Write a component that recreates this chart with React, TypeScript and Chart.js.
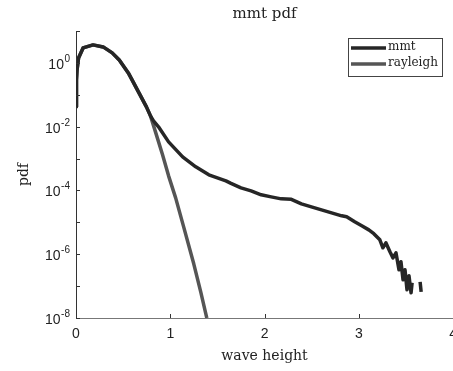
import React, { useEffect, useRef } from "react";
import { Chart, registerables } from "chart.js";

Chart.register(...registerables);

const chartTitle = "mmt pdf";
const xTitle = "wave height";
const yTitle = "pdf";
const xTicks = [0, 1, 2, 3, 4];
const yLabelExponents = [0, -2, -4, -6, -8];
const yDecades = [1, 0, -1, -2, -3, -4, -5, -6, -7, -8];

const mmtX = [0.002, 0.005, 0.011, 0.027, 0.075, 0.181, 0.288, 0.384, 0.459, 0.555, 0.651, 0.747, 0.79, 0.822, 0.875, 0.982, 1.131, 1.27, 1.409, 1.59, 1.644, 1.75, 1.857, 1.964, 2.07, 2.177, 2.284, 2.391, 2.497, 2.604, 2.711, 2.818, 2.871, 2.956, 3.031, 3.106, 3.159, 3.223, 3.255, 3.287, 3.33, 3.362, 3.394, 3.426, 3.447, 3.469, 3.49, 3.511, 3.532, 3.554, 3.565, 3.6, 3.65, 3.661];
const mmtY = [0.0418, 0.293, 0.6, 1.43, 2.95, 3.67, 3.17, 2.06, 1.24, 0.486, 0.1425, 0.0418, 0.0218, 0.0152, 9.9e-3, 3.34e-3, 1.13e-3, 5.5e-4, 3.08e-4, 2.0e-4, 1.67e-4, 1.21e-4, 9.7e-5, 7.3e-5, 6.3e-5, 5.45e-5, 5.26e-5, 3.8e-5, 3.06e-5, 2.47e-5, 1.99e-5, 1.6e-5, 1.49e-5, 1.04e-5, 7.8e-6, 5.8e-6, 4.4e-6, 2.83e-6, 1.59e-6, 2.28e-6, 1.19e-6, 7.7e-7, 1.11e-6, 3.24e-7, 5.8e-7, 1.57e-7, 3.24e-7, 7.7e-8, 2.1e-7, 6.2e-8, 1.27e-7, null, 1.36e-7, 6.6e-8];

const rayX = [0.002, 0.005, 0.011, 0.027, 0.075, 0.181, 0.288, 0.384, 0.459, 0.555, 0.651, 0.747, 0.79, 0.843, 0.918, 0.982, 1.057, 1.142, 1.249, 1.323, 1.387, 1.409];
const rayY = [0.0418, 0.293, 0.6, 1.43, 2.95, 3.67, 3.17, 2.06, 1.24, 0.486, 0.1425, 0.0418, 0.0218, 6.87e-3, 1.31e-3, 2.87e-4, 5.86e-5, 7.2e-6, 5.0e-7, 6.6e-8, 1.01e-8, 5.7e-9];

const SANS = "'Liberation Sans', Arial, sans-serif";
const SERIF = "'DejaVu Serif', serif";

const matlabPlugin = {
  id: "matlabDecor",
  afterDraw(chart: any) {
    const ctx = chart.ctx;
    const xs = chart.scales.x;
    const ys = chart.scales.y;
    const area = chart.chartArea;
    ctx.save();
    // title centred over the plot area
    ctx.fillStyle = "#222";
    ctx.font = `15px ${SERIF}`;
    ctx.textAlign = "center";
    ctx.textBaseline = "middle";
    ctx.fillText(chartTitle, (area.left + area.right) / 2, 14);

    // inward ticks
    ctx.strokeStyle = "#333";
    ctx.lineWidth = 1;
    ctx.beginPath();
    xTicks.forEach((v) => {
      const px = Math.round(xs.getPixelForValue(v)) + 0.5;
      ctx.moveTo(px, area.bottom);
      ctx.lineTo(px, area.bottom - 4);
    });
    yDecades.forEach((k) => {
      const py = Math.round(ys.getPixelForValue(Math.pow(10, k))) + 0.5;
      ctx.moveTo(area.left, py);
      ctx.lineTo(area.left + 4, py);
    });
    ctx.stroke();

    // y tick labels with superscripts
    ctx.fillStyle = "#222";
    ctx.textBaseline = "alphabetic";
    yLabelExponents.forEach((k) => {
      const py = ys.getPixelForValue(Math.pow(10, k));
      const exp = k === 0 ? "0" : "-" + String(-k);
      ctx.font = `10px ${SANS}`;
      const we = ctx.measureText(exp).width;
      const right = area.left - 6;
      ctx.textAlign = "left";
      ctx.fillText(exp, right - we, py - 1);
      ctx.font = `14px ${SANS}`;
      ctx.textAlign = "right";
      ctx.fillText("10", right - we - 0.5, py + 6);
    });

    // legend box
    const bx = 348.5, by = 38.5, bw = 94, bh = 38;
    ctx.fillStyle = "#fff";
    ctx.fillRect(bx, by, bw, bh);
    ctx.strokeStyle = "#444";
    ctx.lineWidth = 1;
    ctx.strokeRect(bx, by, bw, bh);
    const rows = [48, 64];
    chart.data.datasets.forEach((ds: any, i: number) => {
      const ly = rows[i];
      ctx.strokeStyle = ds.borderColor;
      ctx.lineWidth = ds.borderWidth;
      ctx.beginPath();
      ctx.moveTo(351, ly);
      ctx.lineTo(386, ly);
      ctx.stroke();
      ctx.fillStyle = "#222";
      ctx.font = `12px ${SERIF}`;
      ctx.textAlign = "left";
      ctx.textBaseline = "middle";
      ctx.fillText(ds.label, 388, ly - 1);
    });
    ctx.restore();
  },
};

export default function App() {
  const ref = useRef<HTMLCanvasElement | null>(null);
  useEffect(() => {
    if (!ref.current) return;
    const mmtData = mmtX.map((x, i) => ({ x, y: mmtY[i] }));
    const rayData = rayX.map((x, i) => ({ x, y: rayY[i] }));
    const chart = new Chart(ref.current, {
      type: "line",
      data: {
        datasets: [
          {
            label: "mmt",
            data: mmtData as any,
            borderColor: "#262626",
            borderWidth: 3.5,
            pointRadius: 0,
            tension: 0,
            spanGaps: false,
            borderJoinStyle: "round",
          },
          {
            label: "rayleigh",
            data: rayData as any,
            borderColor: "#555555",
            borderWidth: 3.5,
            pointRadius: 0,
            tension: 0,
            borderJoinStyle: "round",
          },
        ],
      },
      options: {
        responsive: false,
        animation: false,
        events: [],
        layout: { padding: { left: 0, right: 2, top: 31, bottom: 0 } },
        plugins: {
          legend: { display: false },
          tooltip: { enabled: false },
          title: { display: false },
        },
        scales: {
          x: {
            type: "linear",
            min: 0,
            max: 4,
            afterBuildTicks: (s: any) => {
              s.ticks = xTicks.map((v) => ({ value: v }));
            },
            afterFit: (s: any) => {
              s.height = 53;
            },
            grid: { display: false, drawTicks: false },
            border: { display: true, color: "#777", width: 1 },
            ticks: {
              color: "#222",
              font: { family: SANS, size: 14 },
              padding: 8,
              maxRotation: 0,
              callback: (v: any) => String(v),
            },
            title: {
              display: true,
              text: xTitle,
              color: "#222",
              font: { family: SERIF, size: 14, weight: "normal" },
              padding: { top: 0, bottom: 6 },
            },
          },
          y: {
            type: "logarithmic",
            min: 1e-8,
            max: 10,
            afterFit: (s: any) => {
              s.width = 76;
            },
            grid: { display: false, drawTicks: false },
            border: { display: true, color: "#333", width: 1 },
            ticks: { display: false },
            title: {
              display: true,
              text: yTitle,
              color: "#222",
              font: { family: SERIF, size: 14, weight: "normal" },
              padding: { top: 16, bottom: 0 },
            },
          },
        },
      },
      plugins: [matlabPlugin],
    });
    return () => chart.destroy();
  }, []);
  return (
    <div
      style={{
        position: "fixed",
        left: 0,
        top: 0,
        width: 453,
        height: 371,
        overflow: "hidden",
        background: "#fff",
      }}
    >
      <canvas ref={ref} width={465} height={371} style={{ display: "block" }} />
    </div>
  );
}
